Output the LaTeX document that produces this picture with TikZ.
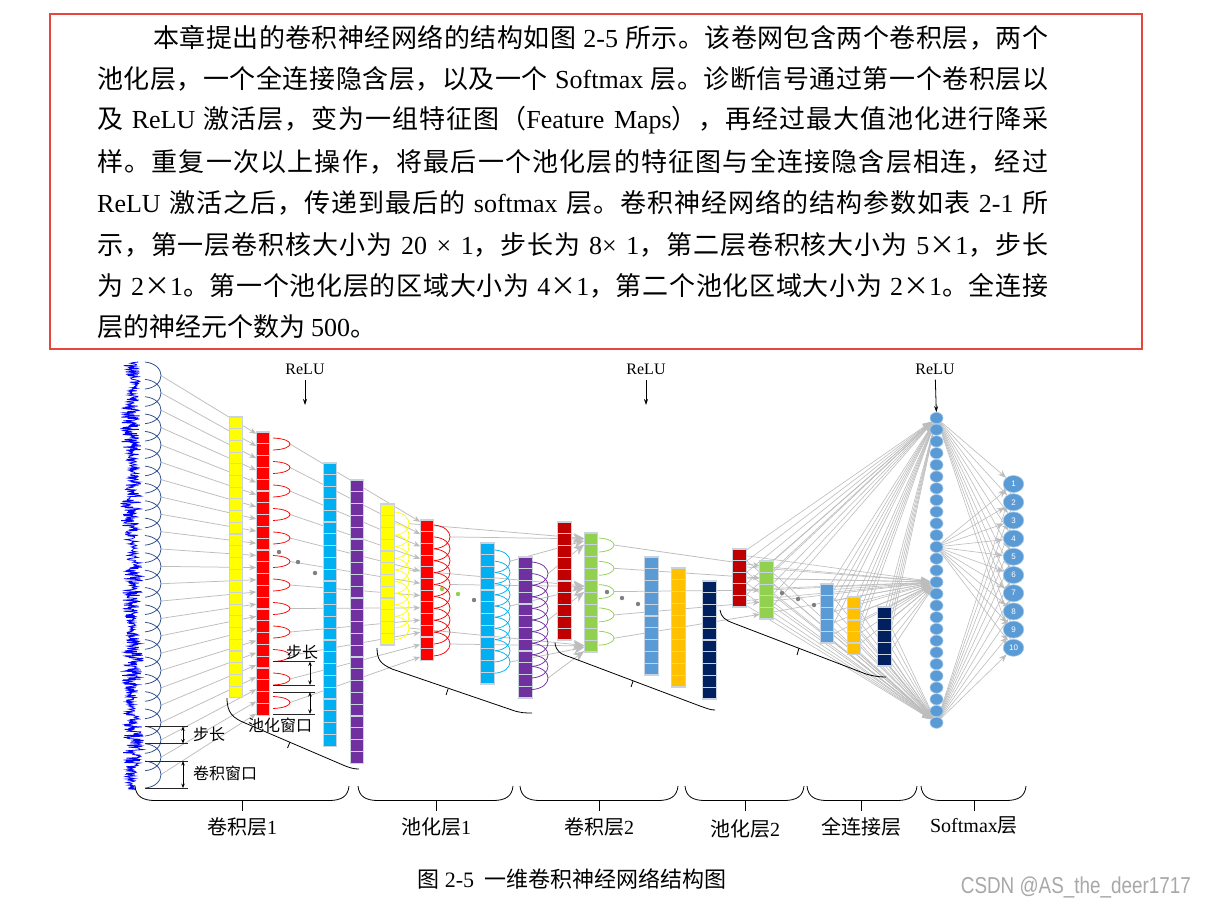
\documentclass[tikz,border=0pt]{standalone}
\usepackage{fontspec}
\setmainfont{Noto Sans CJK SC}
\newfontfamily\lat{Liberation Serif}
\newfontfamily\sansf{Liberation Sans}
\newfontfamily\wmfont[FakeStretch=0.82]{Liberation Sans}
\usetikzlibrary{arrows.meta,shapes.geometric}
\newcount\cjkcc
\cjkcc="4E00
\loop\XeTeXcharclass\cjkcc=7\advance\cjkcc by 1\ifnum\cjkcc<"A000\repeat
\cjkcc="3000
\loop\XeTeXcharclass\cjkcc=7\advance\cjkcc by 1\ifnum\cjkcc<"3040\repeat
\cjkcc="FF00
\loop\XeTeXcharclass\cjkcc=7\advance\cjkcc by 1\ifnum\cjkcc<"FFF0\repeat
\XeTeXinterchartokenstate=1
\XeTeXinterchartoks 7 7 = {\hskip 0pt plus 1pt\relax}
\pgfdeclarelayer{paper}
\pgfdeclarelayer{bg}
\pgfsetlayers{paper,bg,main}
\definecolor{boxred}{HTML}{E8453C}
\definecolor{cellgray}{HTML}{C9D3DD}
\definecolor{conngray}{HTML}{BDBDBD}
\definecolor{sigblue}{HTML}{0000FF}
\definecolor{arcnavy}{HTML}{2A4B8D}
\definecolor{cyanb}{HTML}{00B0F0}
\definecolor{purp}{HTML}{7030A0}
\definecolor{dred}{HTML}{C00000}
\definecolor{lgreen}{HTML}{92D050}
\definecolor{lblue}{HTML}{5B9BD5}
\definecolor{orng}{HTML}{FFC000}
\definecolor{navyc}{HTML}{002060}
\definecolor{ylw}{HTML}{FFFF00}
\definecolor{rd}{HTML}{FF0000}
\definecolor{wmgray}{HTML}{A8A8A8}
\hbadness=10000
\newcommand\jline[2]{\hbox to #1pt{#2}}
% feature map: name, x, ytop, n, cell height, colour
\newcommand\fmap[6]{%
  \foreach \i in {1,...,#4}{%
    \node[cell, minimum height=#5pt, fill=#6] (#1-\i) at (#2,{#3+(\i-0.5)*#5}) {};
  }}
% chain of arcs: name, x, ytop, n, step, height, bulge, colour
\newcommand\archain[8]{%
  \foreach \k in {1,...,#4}{%
    \pgfmathsetmacro\ya{#3+(\k-1)*#5}%
    \draw[draw=#8, line width=0.75pt] (#2,\ya) .. controls ({#2+#7*4/3},{\ya+#6*0.08}) and ({#2+#7*4/3},{\ya+#6*0.92}) .. (#2,{\ya+#6});
    \coordinate (#1-\k) at ({#2+#7},{\ya+#6/2});
  }}
\newcommand\hbrace[3]{%
  \draw[brace] (#1,786) .. controls (#1+1,796) and (#1+7,800.5) .. (#1+20,800.5) -- (#2-20,800.5) .. controls (#2-7,800.5) and (#2-1,796) .. (#2,786);
  \draw[brace] (#3,800.5) -- (#3,811);}
\begin{document}
\begin{tikzpicture}[x=1pt,y=-1pt,
  cell/.style={rectangle, draw=cellgray, line width=1.1pt, minimum width=13.5pt, inner sep=0pt, outer sep=0pt},
  conn/.style={draw=conngray, line width=0.75pt, -{Stealth[length=7pt,width=5.5pt]}},
  bigconn/.style={draw=conngray, line width=0.75pt, -{Stealth[length=11pt,width=9pt]}},
  hconn/.style={draw=conngray, line width=0.6pt, -{Stealth[length=9pt,width=7pt]}},
  oconn/.style={draw=conngray, line width=0.6pt, -{Stealth[length=8pt,width=6pt]}},
  hnode/.style={ellipse, fill=lblue, draw=lblue!55!white, line width=0.6pt, minimum width=13pt, minimum height=11.2pt, inner sep=0pt},
  onode/.style={ellipse, fill=lblue, draw=lblue!55!white, line width=0.6pt, minimum width=20.5pt, minimum height=17pt, inner sep=0pt, text=white, font=\sansf\fontsize{8}{9}\selectfont},
  relu/.style={font=\lat\fontsize{16}{18}\selectfont, inner sep=1pt},
  reluarr/.style={black, line width=0.8pt, -{Stealth[length=6pt,width=4pt]}},
  annot/.style={black, line width=0.7pt, {Stealth[length=4.5pt,width=3.5pt]}-{Stealth[length=4.5pt,width=3.5pt]}},
  annline/.style={black!85, line width=0.9pt},
  lab/.style={font=\fontsize{16}{18}\selectfont, inner sep=1pt},
  blab/.style={font=\fontsize{20}{24}\selectfont, inner sep=1pt},
  brace/.style={black, line width=0.8pt},
  para/.style={anchor=west, inner sep=0pt, font=\fontsize{26}{31}\selectfont}]
\useasboundingbox (0,0) rectangle (1206,906);
\begin{pgfonlayer}{paper}
\fill[white] (0,0) rectangle (1206,906);
\end{pgfonlayer}
% ---------------- text box ----------------
\draw[boxred, line width=2pt] (50,14) rectangle (1142,349);
\node[para] (t1) at (153,38) {\jline{895}{本章提出的卷积神经网络的结构如图 {\lat 2-5} 所示。该卷网包含两个卷积层，两个}};
\node[para] (t2) at (97,79.3) {\jline{951}{池化层，一个全连接隐含层，以及一个 {\lat Softmax} 层。诊断信号通过第一个卷积层以}};
\node[para] (t3) at (97,120.6) {\jline{951}{及 {\lat ReLU} 激活层，变为一组特征图（{\lat Feature Maps}），再经过最大值池化进行降采}};
\node[para] (t4) at (97,161.9) {\jline{951}{样。重复一次以上操作，将最后一个池化层的特征图与全连接隐含层相连，经过}};
\node[para] (t5) at (97,203.2) {\jline{951}{{\lat ReLU} 激活之后，传递到最后的 {\lat softmax} 层。卷积神经网络的结构参数如表 {\lat 2-1} 所}};
\node[para] (t6) at (97,244.5) {\jline{951}{示，第一层卷积核大小为 {\lat 20 × 1}，步长为 {\lat 8× 1}，第二层卷积核大小为 {\lat 5}×{\lat 1}，步长}};
\node[para] (t7) at (97,285.8) {\jline{951}{为 {\lat 2}×{\lat 1}。第一个池化层的区域大小为 {\lat 4}×{\lat 1}，第二个池化区域大小为 {\lat 2}×{\lat 1}。全连接}};
\node[para] (t8) at (97,327.1) {层的神经元个数为 {\lat 500}。};
% ---------------- input signal ----------------
\pgfmathsetseed{4242}
\draw[sigblue, line width=0.8pt] plot[domain=362:790, samples=700, variable=\t] ({132+(4+6.5*abs(sin(\t*2.3)))*rand+1.5*sin(\t*4)}, \t);
\archain{ca}{145}{362}{24}{17.35}{27}{16}{arcnavy}
% ---------------- conv1 ----------------
\fmap{yc1}{236}{417}{24}{11.7}{ylw}
\fmap{rc1}{263}{432}{24}{11.8}{rd}
\fmap{bc1}{330}{463}{24}{11.8}{cyanb}
\fmap{pc1}{357}{480}{24}{11.8}{purp}
\archain{ra}{273}{438}{12}{23.5}{12}{17}{rd}
% ---------------- pool1 ----------------
\fmap{yp1}{387.5}{504}{12}{11.75}{ylw}
\fmap{rp1}{427}{520}{12}{11.7}{rd}
\fmap{bp1}{487.5}{543}{12}{11.75}{cyanb}
\fmap{pp1}{525.5}{557}{12}{11.75}{purp}
\archain{ya}{395}{512}{10}{11.6}{23.2}{14}{ylw}
\archain{pra}{434}{525}{10}{11.9}{23.8}{16}{rd}
\archain{pba}{495}{550}{10}{11.2}{22.4}{15}{cyanb}
\archain{ppa}{532}{562}{10}{11.6}{23.2}{16}{purp}
% ---------------- conv2 ----------------
\fmap{rc2}{564.5}{522}{10}{11.8}{dred}
\fmap{gc2}{591}{533}{10}{11.9}{lgreen}
\fmap{bc2}{651.5}{557}{10}{11.8}{lblue}
\fmap{oc2}{678.5}{568}{10}{11.9}{orng}
\fmap{nc2}{709.5}{581}{10}{11.8}{navyc}
\archain{ga}{599}{538}{5}{23.3}{14}{15}{lgreen}
% ---------------- pool2 ----------------
\fmap{rp2}{739.5}{549}{5}{11.6}{dred}
\fmap{gp2}{766.5}{561}{5}{11.6}{lgreen}
\fmap{bp2}{827}{584}{5}{11.8}{lblue}
\fmap{op2}{854}{597}{5}{11.5}{orng}
\fmap{np2}{884.5}{607}{5}{11.8}{navyc}
% ---------------- dots ----------------
\foreach \px/\py in {279/552,298/562,315/573,474/600,607/592,622/598,638/604,782/593,798/599,814/605}
  \fill[gray] (\px,\py) circle[radius=2.2];
\foreach \px/\py in {442/589,458/594}
  \fill[lgreen] (\px,\py) circle[radius=2.2];
% ---------------- hidden and output ----------------
\foreach \i in {1,...,27} \node[hnode] (h-\i) at (936.5,{418+(\i-1)*11.72}) {};
\foreach \i in {1,...,10} \node[onode] (o-\i) at (1013.5,{484+(\i-1)*18.2}) {\i};
% ---------------- ReLU ----------------
\node[relu] (relu1) at (305,369) {ReLU};
\node[relu] (relu2) at (646,369) {ReLU};
\node[relu] (relu3) at (935,369) {ReLU};
\coordinate (re1) at (305,405);
\coordinate (re2) at (646,405);
\draw[reluarr, shorten <=4pt] (relu1) -- (re1);
\draw[reluarr, shorten <=4pt] (relu2) -- (re2);
\draw[reluarr, shorten <=4pt] (relu3) -- (h-1);
% ---------------- annotations ----------------
\draw[annline] (145,726.35) -- (188,726.35);
\draw[annline] (145,743.7) -- (188,743.7);
\draw[annline] (145,761.05) -- (188,761.05);
\draw[annline] (145,788.05) -- (188,788.05);
\coordinate (sa) at (183,726.35); \coordinate (sb) at (183,743.7);
\coordinate (wa) at (183,761.05); \coordinate (wb) at (183,788.05);
\draw[annot] (sa) -- (sb);
\draw[annot] (wa) -- (wb);
\node[lab, anchor=west] (lstep1) at (192,734) {步长};
\node[lab, anchor=west] (lwin1) at (192,773) {卷积窗口};
\draw[annline] (273,661.5) -- (315,661.5);
\draw[annline] (273,685) -- (315,685);
\draw[annline] (273,692) -- (315,692);
\draw[annline] (273,714) -- (315,714);
\coordinate (pa) at (310,661.5); \coordinate (pb) at (310,685);
\coordinate (qa) at (310,692); \coordinate (qb) at (310,714);
\draw[annot] (pa) -- (pb);
\draw[annot] (qa) -- (qb);
\node[lab] (lstep2) at (302,652) {步长};
\node[lab] (lwin2) at (280,725) {池化窗口};
% ---------------- diagonal braces ----------------
\draw[brace] (227,698) .. controls (227,713) and (233,718) .. (245,723) -- (343,765) .. controls (350,768) and (354,769) .. (359,769);
\draw[brace] (290,742) -- (287.5,748);
\draw[brace] (377,648) .. controls (377,660) and (381,664) .. (392,669) -- (512,710) .. controls (520,713) and (526,713) .. (532,713);
\draw[brace] (448,689) -- (446,695);
\draw[brace] (555,643) .. controls (556,651) and (560,654) .. (570,657) -- (700,706) .. controls (706,708) and (710,710) .. (715,710);
\draw[brace] (633,681) -- (631,687);
\draw[brace] (720,610) .. controls (721,617) and (725,620) .. (733,623) -- (866,674) .. controls (873,676) and (879,677) .. (886,677);
\draw[brace] (799,648) -- (797,655);
% ---------------- bottom braces and labels ----------------
\hbrace{135}{349}{242}
\hbrace{358}{513}{436}
\hbrace{520}{678}{599}
\hbrace{685}{804}{745}
\hbrace{807}{917}{861}
\hbrace{921}{1026}{974}
\node[blab] (lb1) at (242,827) {卷积层{\lat 1}};
\node[blab] (lb2) at (436,827) {池化层{\lat 1}};
\node[blab] (lb3) at (599,827) {卷积层{\lat 2}};
\node[blab] (lb4) at (745,829) {池化层{\lat 2}};
\node[blab] (lb5) at (861,827) {全连接层};
\node[blab] (lb6) at (974,825) {{\lat Softmax}层};
\node[font=\fontsize{22}{25}\selectfont, inner sep=1pt] (cap) at (572,879) {图 {\lat 2-5}\ \ 一维卷积神经网络结构图};
\node[anchor=east, text=wmgray, font=\wmfont\fontsize{23}{26}\selectfont, inner sep=0pt] (wm) at (1191,887) {CSDN @AS\_the\_deer1717};
% ---------------- connectors (behind) ----------------
\begin{pgfonlayer}{bg}
\foreach \k in {1,...,24} \draw[conn] (ca-\k) -- (rc1-\k);
\foreach \k in {1,...,12} \draw[conn] (ra-\k) -- (rp1-\k);
\foreach \sv in {ya,pra,pba,ppa}{
  \draw[bigconn] (\sv-1) -- (gc2-1);
  \draw[bigconn] (\sv-5) -- (gc2-5);
  \draw[bigconn] (\sv-10) -- (gc2-10);}
\foreach \k in {1,...,5} \draw[conn] (ga-\k) -- (gp2-\k);
\foreach \cn in {rp2,gp2,bp2,op2,np2}
  \foreach \i in {1,...,5}
    \foreach \tg in {1,15,27}
      \draw[hconn] (\cn-\i) -- (h-\tg);
\foreach \sv in {1,12,27}
  \foreach \oi in {1,...,10}
    \draw[oconn] (h-\sv) -- (o-\oi);
\end{pgfonlayer}
\end{tikzpicture}
\end{document}
